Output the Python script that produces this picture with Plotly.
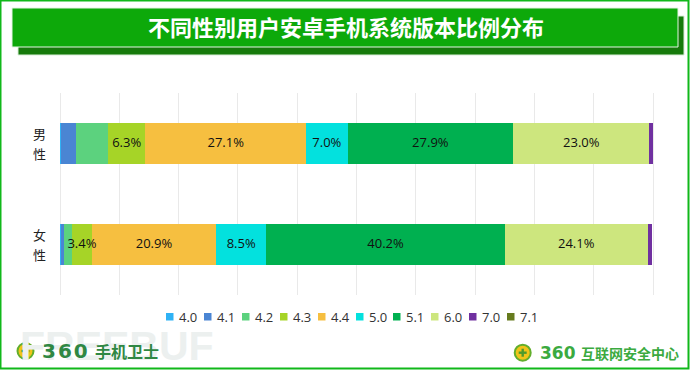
import plotly.graph_objects as go

W, H = 690, 370
L, R, T, B = 58, 35, 93, 75
PW, PH = W - L - R, H - T - B

title_text = "不同性别用户安卓手机系统版本比例分布"
categories = ["男", "女"]
versions = ["4.0", "4.1", "4.2", "4.3", "4.4", "5.0", "5.1", "6.0", "7.0", "7.1"]
colors = ["#2FB2F5", "#4A85D3", "#5CD27E", "#A6D427", "#F6BF40",
          "#03E1DE", "#00B050", "#CDE67E", "#7030A0", "#667B1E"]
v40 = [0.1, 0.1]
v41 = [2.6, 0.5]
v42 = [5.4, 1.4]
v43 = [6.3, 3.4]
v44 = [27.1, 20.9]
v50 = [7.0, 8.5]
v51 = [27.9, 40.2]
v60 = [23.0, 24.1]
v70 = [0.6, 0.8]
v71 = [0.0, 0.0]
series = [v40, v41, v42, v43, v44, v50, v51, v60, v70, v71]
labelled = ["4.3", "4.4", "5.0", "5.1", "6.0"]

FONT = "Noto Sans CJK SC"
LATIN = "Open Sans, Noto Sans CJK SC"


def fx(p):
    return (p - L) / PW


def fy(p):
    return 1 - (p - T) / PH


def rect(x0, y0, x1, y1, fill, line=None, lw=0, layer="below"):
    return dict(type="rect", xref="paper", yref="paper", layer=layer,
                x0=fx(x0), x1=fx(x1), y0=fy(y0), y1=fy(y1),
                fillcolor=fill, line=dict(color=line or fill, width=lw))


def note(x, y, text, size, color, anchor="left", family=LATIN, bold=False):
    return dict(xref="paper", yref="paper", x=fx(x), y=fy(y), text=f"<b>{text}</b>" if bold else text,
                showarrow=False, xanchor=anchor, yanchor="middle",
                font=dict(size=size, color=color, family=family))


def logo(cx, cy):
    return [
        dict(type="circle", xref="paper", yref="paper", layer="above",
             x0=fx(cx - 8), x1=fx(cx + 8), y0=fy(cy - 8), y1=fy(cy + 8),
             fillcolor="#F0C419", line=dict(color="#62AE2C", width=2)),
        rect(cx - 4, cy - 1.2, cx + 4, cy + 1.2, "#4E9A2C", layer="above"),
        rect(cx - 1.2, cy - 4, cx + 1.2, cy + 4, "#4E9A2C", layer="above"),
    ]


fig = go.Figure()
for name, vals, col in zip(versions, series, colors):
    fig.add_trace(go.Bar(
        y=categories, x=vals, name=name, orientation="h",
        marker=dict(color=col, line=dict(width=0)),
        hoverinfo="x+name", showlegend=False,
    ))

# value labels sit above every bar so a label wider than its segment is not covered
lab_x, lab_y, lab_t = [], [], []
for i, cat in enumerate(categories):
    running = 0
    for name, vals in zip(versions, series):
        if name in labelled:
            lab_x.append(running + vals[i] / 2)
            lab_y.append(cat)
            lab_t.append(f"{vals[i]:.1f}%")
        running += vals[i]
fig.add_trace(go.Scatter(
    x=lab_x, y=lab_y, text=lab_t, mode="text", textposition="middle center",
    textfont=dict(size=13, color="#111111", family=LATIN),
    hoverinfo="skip", showlegend=False,
))

shapes = [
    rect(0.5, 0.5, 688.5, 368.5, "rgba(0,0,0,0)", "#10B81A", 2),
    rect(18, 16, 684, 55, "#167A0B", "#D8EED8", 1),
    rect(12, 8, 678, 47, "#0DA90A", "#E4F4E4", 1),
] + logo(25.5, 351) + logo(522.7, 352.7)

annotations = [
    note(18, 346, "FREEBUF", 41, "#ECF0EF", family="Liberation Sans", bold=True),
    note(40, 351, "3\u200a6\u200a0", 20, "#2F8743", family="DejaVu Sans", bold=True),
    note(93, 351, "手机卫士", 16, "#2F8743", family=FONT, bold=True),
    note(538, 352.5, "360", 17, "#3BAA3F", family="DejaVu Sans", bold=True),
    note(579, 352.5, "互联网安全中心", 14, "#3BAA3F", family=FONT, bold=True),
]
leg_x = [166, 204, 242, 280, 318, 356, 393, 431, 469, 507]
for x, name, col in zip(leg_x, versions, colors):
    shapes.append(rect(x, 313, x + 7.5, 320.5, col))
    annotations.append(note(x + 11, 316.5, name, 13, "#333333"))

fig.update_layout(
    width=W, height=H, barmode="stack", bargap=0.595,
    margin=dict(l=L, r=R, t=T, b=B, pad=0),
    paper_bgcolor="white", plot_bgcolor="white",
    title=dict(text=f"<b>{title_text}</b>", xref="container", yref="container",
               x=346 / W, y=1 - 28 / H, xanchor="center", yanchor="middle",
               font=dict(size=22, color="white", family=FONT)),
    xaxis=dict(range=[-0.337, 100.337], tick0=0, dtick=10, showticklabels=False, showgrid=True,
               gridcolor="#E9E9E9", gridwidth=1, zeroline=False, showline=False),
    yaxis=dict(autorange="reversed", showgrid=False, zeroline=False, showline=False,
               ticks="", ticklabelstandoff=11,
               tickmode="array", tickvals=categories,
               ticktext=[f"<span style='font-size:13px'>{c}</span><br><span style='font-size:13px'>性</span>"
                         for c in categories],
               tickfont=dict(size=16, color="#222222", family=FONT)),
    shapes=shapes, annotations=annotations,
)
fig.write_html("out.html", config={"displayModeBar": False},
               post_script="document.body.style.margin='0';")
